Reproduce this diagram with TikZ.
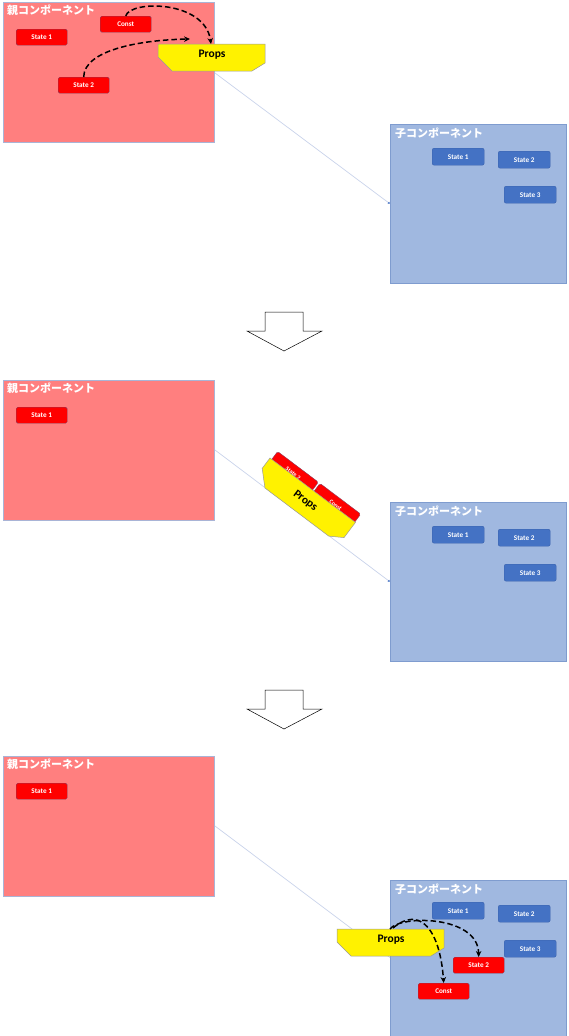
\documentclass[tikz,border=0pt]{standalone}
\usepackage{fontspec}
\setmainfont{Carlito}
\newfontfamily\jpfont{Noto Sans CJK JP}
\usepackage{tikz}
\usetikzlibrary{positioning,calc,arrows.meta}
\definecolor{parentred}{HTML}{FF7F7F}
\definecolor{parentedge}{HTML}{A9B4D6}
\definecolor{childblue}{HTML}{A0B8E0}
\definecolor{childedge}{HTML}{7F9CCF}
\definecolor{stateblue}{HTML}{4472C4}
\definecolor{stateblueedge}{HTML}{3A62AD}
\definecolor{stateredge}{HTML}{8B3A5A}
\definecolor{propsedge}{HTML}{9A9A9A}
\definecolor{passblue}{HTML}{C9D3EA}
\def\PropsPath{(0,0) -- (107,0) -- (107,19) -- (94,27) -- (14,27) -- (0,13) -- cycle}
\def\FlowPath{(265,312) -- (303,312) -- (303,331) -- (322,331) -- (284,351) -- (247,331) -- (265,331) -- cycle}
\tikzset{
  parent/.style={draw=parentedge, fill=parentred, line width=0.6pt, anchor=north west,
    minimum width=211pt, minimum height=140pt, inner sep=0pt},
  child/.style={draw=childedge, fill=childblue, line width=0.6pt, anchor=north west,
    minimum width=176pt, minimum height=159pt, inner sep=0pt},
  paneltitle/.style={font=\jpfont\bfseries\fontsize{11}{12}\selectfont, text=white, inner sep=0pt},
  redstate/.style={draw=stateredge, fill=red, rounded corners=1.5pt, anchor=north west,
    minimum width=51pt, minimum height=16pt, inner sep=0pt, text=white,
    font=\bfseries\fontsize{7.2}{8}\selectfont},
  bluestate/.style={draw=stateblueedge, fill=stateblue, rounded corners=2pt, anchor=north west,
    minimum width=52pt, minimum height=17pt, inner sep=0pt, text=white,
    font=\bfseries\fontsize{7.2}{8}\selectfont},
  propsbox/.style={draw=propsedge, fill=yellow, line width=0.5pt},
  propslabel/.style={font=\bfseries\fontsize{11.5}{13}\selectfont, inner sep=0pt},
  passline/.style={draw=passblue, line width=0.7pt, -{Latex[length=2pt,width=2.5pt,color=stateblue]}},
  carry/.style={dash pattern=on 5.5pt off 3pt, line width=1.5pt, -{Stealth[length=6pt,width=5.5pt]}},
  flowarrow/.style={draw=black, fill=white, line width=0.5pt},
}
\begin{document}
\begin{tikzpicture}[x=1pt,y=-1pt]
\useasboundingbox (0,0) rectangle (568,1036);
% before
\node[parent] (parentA) at (3,2) {};
\node[paneltitle, below right=3pt and 4pt of parentA.north west] (parentAtitle) {親コンポーネント};
\node[redstate] (pA1) at (16,29) {State 1};
\node[redstate] (pAconst) at (100,16) {Const};
\node[redstate] (pA2) at (58,77) {State 2};
\node[child] (childA) at (390,124) {};
\node[paneltitle, below right=4pt and 5pt of childA.north west] (childAtitle) {子コンポーネント};
\node[bluestate] (cA1) at (432,148) {State 1};
\node[bluestate] (cA2) at (498,151) {State 2};
\node[bluestate] (cA3) at (504,186) {State 3};
\coordinate (passAs) at (215,73);
\draw[passline] (passAs) -- (childA.west);
\begin{scope}[shift={(158,44)}]
  \draw[propsbox] \PropsPath;
  \node[propslabel] (propsA) at (54,11) {Props};
  \coordinate (propsAin) at (53,0);
\end{scope}
\draw[carry] (pAconst.north) .. controls (130,0) and (205,0) .. (propsAin);
\draw[carry] (pA2.north) .. controls (84,50) and (140,40) .. (190,39);
\draw[flowarrow] \FlowPath;

% passing
\node[parent] (parentB) at (3,380) {};
\node[paneltitle, below right=3pt and 4pt of parentB.north west] (parentBtitle) {親コンポーネント};
\node[redstate] (pB1) at (16,407) {State 1};
\node[child] (childB) at (390,502) {};
\node[paneltitle, below right=4pt and 5pt of childB.north west] (childBtitle) {子コンポーネント};
\node[bluestate] (cB1) at (432,526) {State 1};
\node[bluestate] (cB2) at (498,529) {State 2};
\node[bluestate] (cB3) at (504,564) {State 3};
\coordinate (passBs) at (215,450);
\draw[passline] (passBs) -- (childB.west);
\begin{scope}[shift={(270,458)}, rotate=-37, transform shape]
  \node[redstate, font=\bfseries\fontsize{6}{7}\selectfont] (pB2) at (2,-10) {State 2};
  \node[redstate, font=\bfseries\fontsize{6}{7}\selectfont] (pBconst) at (55,-10) {Const};
  \draw[propsbox] \PropsPath;
  \node[propslabel] (propsB) at (54,13) {Props};
\end{scope}
\begin{scope}[yshift=-378pt]
  \draw[flowarrow] \FlowPath;
\end{scope}

% after
\node[parent] (parentC) at (3,756) {};
\node[paneltitle, below right=3pt and 4pt of parentC.north west] (parentCtitle) {親コンポーネント};
\node[redstate] (pC1) at (16,783) {State 1};
\node[child, minimum height=170pt] (childC) at (390,880) {};
\node[paneltitle, below right=4pt and 5pt of childC.north west] (childCtitle) {子コンポーネント};
\node[bluestate] (cC1) at (432,902) {State 1};
\node[bluestate] (cC2) at (498,905) {State 2};
\node[bluestate] (cC3) at (504,940) {State 3};
\node[redstate] (cC4) at (453,957) {State 2};
\node[redstate] (cCconst) at (418,983) {Const};
\coordinate (passCs) at (215,826);
\coordinate (passCe) at (390,957.5);
\draw[draw=passblue, line width=0.7pt] (passCs) -- (passCe);
\begin{scope}[shift={(337,929)}]
  \draw[propsbox] \PropsPath;
  \node[propslabel] (propsC) at (54,11) {Props};
  \coordinate (propsCout) at (53,0);
  \coordinate (propsCout2) at (56,-1);
\end{scope}
\draw[carry] (propsCout) .. controls (400,915) and (478,915) .. (cC4.north);
\draw[carry] (propsCout2) .. controls (420,905) and (440,930) .. (cCconst.north);
\end{tikzpicture}
\end{document}
